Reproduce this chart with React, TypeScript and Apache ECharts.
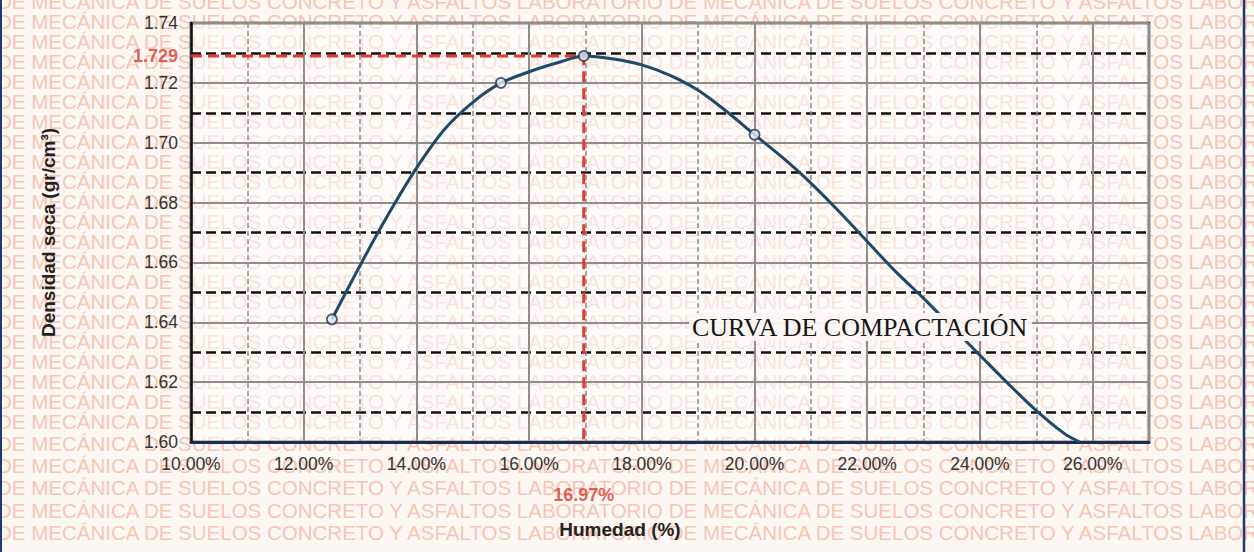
import React, { useEffect, useRef } from 'react';
import * as echarts from 'echarts';

// Measured compaction points (moisture %, dry density g/cm3)
const moisturePct = [12.5, 15.5, 16.97, 20.0];
const dryDensity = [1.641, 1.72, 1.729, 1.7027];

// Compaction curve, every half percent of moisture
const curveMoisture = [12.5, 13.0, 13.5, 14.0, 14.5, 15.0, 15.5, 16.0, 16.5, 16.97, 17.5, 18.0, 18.5, 19.0, 19.5, 20.0, 20.5, 21.0, 21.5, 22.0, 22.5, 23.0, 23.5, 24.0, 24.5, 25.0, 25.5, 25.77];
const curveDensity = [1.641, 1.659, 1.676, 1.6915, 1.7045, 1.7135, 1.72, 1.7237, 1.7267, 1.729, 1.728, 1.726, 1.7225, 1.7175, 1.7105, 1.7027, 1.695, 1.6865, 1.677, 1.667, 1.657, 1.648, 1.6385, 1.629, 1.6195, 1.6105, 1.6028, 1.6];

const optimumMoisture = 16.97;
const maxDensity = 1.729;

const xMin = 10;
const xMax = 27;
const yMin = 1.6;
const yMax = 1.74;

const xAxisTitle = 'Humedad (%)';
const yAxisTitle = 'Densidad seca (gr/cm³)';
const curveTitle = 'CURVA DE COMPACTACIÓN';
const watermarkText = 'DE MECÁNICA DE SUELOS CONCRETO Y ASFALTOS LABORATORIO ';
const watermarkRows = [1, 21, 41, 61, 81, 101, 121, 141, 161, 181, 201, 221, 241, 261, 281, 301, 321, 341, 361, 381, 401, 421, 443, 465, 487, 510, 532];

const SANS = '"Liberation Sans", Arial, Helvetica, sans-serif';
const SERIF = '"Liberation Serif", "Times New Roman", serif';

export default function App() {
  const ref = useRef<HTMLDivElement>(null);

  useEffect(() => {
    document.body.style.margin = '0';
    if (!ref.current) return;
    const chart = echarts.init(ref.current, undefined, { renderer: 'svg' });

    const watermark = watermarkRows.map((y) => ({
      type: 'text',
      x: -3,
      y,
      z: -10,
      silent: true,
      style: {
        text: watermarkText.repeat(2) + 'DE MECÁNICA DE SUELOS CONCRETO Y ASFALTOS LABO',
        font: `20.5px ${SANS}`,
        fill: '#f4c6b3',
        verticalAlign: 'middle',
      },
    }));

    const option: any = {
      animation: false,
      backgroundColor: '#fcf7f3',
      textStyle: { fontFamily: SANS },
      grid: {
        left: 191,
        right: 105,
        top: 23,
        bottom: 110,
        show: true,
        borderColor: '#111',
        borderWidth: 2.5,
        backgroundColor: 'rgba(255,255,255,0.5)',
        containLabel: false,
      },
      xAxis: [
        {
          type: 'value',
          min: xMin,
          max: xMax,
          interval: 2,
          axisLine: { show: true, onZero: false, lineStyle: { color: '#1d2c50', width: 3 } },
          axisTick: { show: false },
          axisLabel: {
            showMaxLabel: false,
            formatter: (v: number) => v.toFixed(2) + '%',
            fontSize: 17.5,
            color: '#333',
            margin: 13,
            fontFamily: SANS,
          },
          splitLine: { show: true, lineStyle: { color: '#8e8e8e', width: 2 } },
          name: xAxisTitle,
          nameLocation: 'middle',
          nameGap: 78,
          nameTextStyle: {
            fontSize: 19,
            fontWeight: 'bold',
            color: '#222',
            fontFamily: SANS,
            padding: [0, 100, 0, 0],
          },
        },
        {
          type: 'value',
          min: xMin,
          max: xMax,
          interval: 1,
          axisLine: { show: false },
          axisTick: { show: false },
          axisLabel: { show: false },
          splitLine: {
            show: true,
            lineStyle: { color: ['rgba(0,0,0,0)', '#8a8a8a'], width: 1.5, type: [5, 3] },
          },
        },
      ],
      yAxis: {
        type: 'value',
        min: yMin,
        max: yMax,
        interval: 0.02,
        axisLine: { show: true, onZero: false, lineStyle: { color: '#111', width: 2.5 } },
        axisTick: { show: false },
        axisLabel: {
          formatter: (v: number) => v.toFixed(2),
          fontSize: 17.5,
          color: '#333',
          margin: 13,
          fontFamily: SANS,
        },
        splitLine: { show: true, lineStyle: { color: '#8e8e8e', width: 2 } },
        minorTick: { show: false, splitNumber: 2 },
        minorSplitLine: { show: true, lineStyle: { color: '#111', width: 2.5, type: [10, 5] } },
        name: yAxisTitle,
        nameLocation: 'middle',
        nameGap: 133,
        nameRotate: 90,
        nameTextStyle: { fontSize: 19, fontWeight: 'bold', color: '#222', fontFamily: SANS },
      },
      graphic: [
        ...watermark,
        {
          type: 'line',
          z: 20,
          silent: true,
          shape: { x1: 1244, y1: 0, x2: 1244, y2: 552 },
          style: { stroke: '#1f3a70', lineWidth: 2.5 },
        },
        {
          type: 'line',
          z: 20,
          silent: true,
          shape: { x1: 1, y1: 0, x2: 1, y2: 552 },
          style: { stroke: '#1f3a70', lineWidth: 2 },
        },
        {
          type: 'text',
          x: 689,
          y: 327,
          z: 20,
          silent: true,
          style: {
            text: curveTitle,
            font: `26px ${SERIF}`,
            fill: '#161616',
            verticalAlign: 'middle',
            backgroundColor: 'rgba(252,247,243,0.95)',
            padding: [1, 3],
          },
        },
      ],
      series: [
        {
          type: 'line',
          name: 'optimo',
          data: [
            [xMin, maxDensity],
            [optimumMoisture, maxDensity],
            [optimumMoisture, yMin],
          ],
          symbol: 'none',
          lineStyle: { color: '#e23b2e', width: 3, type: [11, 6] },
          z: 3,
        },
        {
          type: 'line',
          name: 'curva',
          data: curveMoisture.map((x, i) => [x, curveDensity[i]]),
          smooth: 0.3,
          symbol: 'none',
          lineStyle: { color: '#1d4a68', width: 3 },
          z: 4,
        },
        {
          type: 'scatter',
          name: 'ensayos',
          data: moisturePct.map((x, i) => [x, dryDensity[i]]),
          symbol: 'circle',
          symbolSize: 10,
          itemStyle: { color: '#e9edf0', borderColor: '#1d3550', borderWidth: 1.8 },
          z: 5,
        },
        {
          type: 'scatter',
          name: 'etiquetas',
          clip: false,
          symbolSize: 0,
          silent: true,
          z: 6,
          data: [
            {
              value: [xMin, maxDensity],
              label: {
                show: true,
                position: 'left',
                distance: 13,
                formatter: maxDensity.toFixed(3),
              },
            },
            {
              value: [optimumMoisture, yMin],
              label: {
                show: true,
                position: 'bottom',
                distance: 44,
                formatter: optimumMoisture.toFixed(2) + '%',
              },
            },
          ],
          label: { fontSize: 18, fontWeight: 'bold', color: '#d9362b', fontFamily: SANS },
        },
      ],
    };

    chart.setOption(option);
    return () => chart.dispose();
  }, []);

  return (
    <div
      ref={ref}
      style={{ position: 'fixed', left: 0, top: 0, width: 1254, height: 552 }}
    />
  );
}
